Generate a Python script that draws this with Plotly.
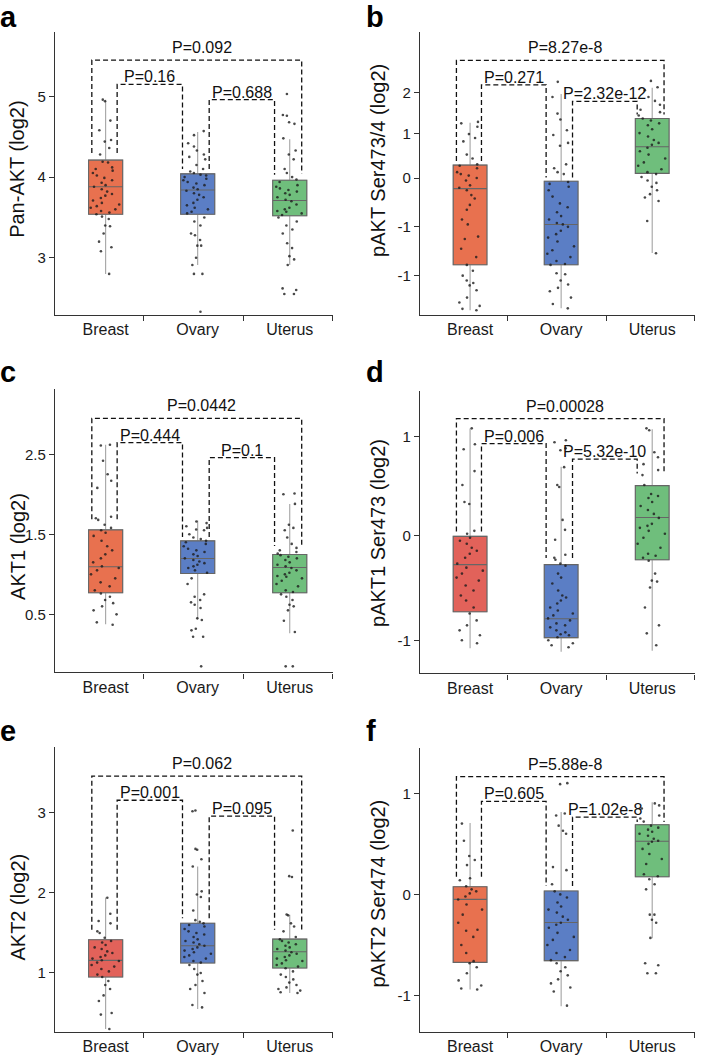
import plotly.graph_objects as go

W, H = 709, 1055
FONT = "Liberation Sans, Arial, Helvetica, sans-serif"

categories = ["Breast", "Ovary", "Uterus"]
panel_letters = ["a", "b", "c", "d", "e", "f"]
y_titles = ["Pan-AKT (log2)", "pAKT Ser473/4 (log2)", "AKT1 (log2)",
            "pAKT1 Ser473 (log2)", "AKT2 (log2)", "pAKT2 Ser474 (log2)"]

# y-axis ranges and tick labels as printed on each panel
y_ranges = [[2.293, 5.80], [-2.802, 2.994], [-0.226, 3.322],
            [-1.383, 1.46], [0.262, 3.821], [-1.361, 1.446]]
tick_vals = [[3, 4, 5], [1.755, 0.906, 0, -1, -2], [0.5, 1.5, 2.5],
             [0.994, 0, -1.05], [1, 2, 3], [1, 0, -1]]
tick_text = [["3", "4", "5"], ["2", "1", "0", "-1", "-1"], ["0.5", "1.5", "2.5"],
             ["1", "0", "-1"], ["1", "2", "3"], ["1", "0", "-1"]]

# box statistics per panel: [Breast, Ovary, Uterus]
q1 = [[3.54, 3.54, 3.52], [-1.776, -1.776, 0.096], [0.770, 1.01, 0.77],
      [-0.763, -1.023, -0.24], [0.95, 1.124, 1.062], [-0.672, -0.655, 0.174]]
median = [[3.88, 3.84, 3.71], [-0.217, -0.952, 0.64], [1.094, 1.197, 1.085],
          [-0.29, -0.833, 0.184], [1.158, 1.34, 1.266], [-0.049, -0.278, 0.525]]
q3 = [[4.21, 4.04, 3.96], [0.265, -0.067, 1.218], [1.555, 1.418, 1.247],
      [-0.006, -0.29, 0.504], [1.416, 1.622, 1.423], [0.076, 0.033, 0.689]]
lower = [[2.80, 2.91, 2.91], [-2.71, -2.67, -1.537], [0.375, 0.44, 0.263],
         [-1.13, -1.166, -1.156], [0.30, 0.55, 0.751], [-0.94, -1.105, -0.433]]
upper = [[4.96, 4.56, 4.47], [1.13, 1.72, 1.85], [2.62, 1.674, 1.88],
         [1.077, 0.694, 1.07], [1.942, 2.33, 1.727], [0.705, 0.814, 0.91]]

# individual samples
pts_a_breast = [4.96, 4.94, 4.70, 4.58, 4.46, 4.44, 4.36, 4.28, 4.19, 4.18, 4.12, 4.10, 4.08, 4.05,
                4.02, 3.99, 3.96, 3.93, 3.90, 3.88, 3.85, 3.82, 3.79, 3.77, 3.74, 3.71, 3.68, 3.66,
                3.64, 3.62, 3.60, 3.58, 3.56, 3.54, 3.51, 3.48, 3.40, 3.39, 3.30, 3.20, 3.13, 3.08, 2.80]
pts_a_ovary = [4.57, 4.52, 4.42, 4.38, 4.33, 4.28, 4.25, 4.22, 4.15, 4.10, 4.07, 4.05, 4.03, 4.02,
               4.00, 3.98, 3.96, 3.94, 3.92, 3.90, 3.87, 3.85, 3.83, 3.80, 3.78, 3.75, 3.72, 3.68,
               3.65, 3.62, 3.60, 3.57, 3.55, 3.50, 3.45, 3.40, 3.30, 3.28, 3.22, 3.15, 3.15, 3.00,
               2.91, 2.80, 2.80, 2.33]
pts_a_uterus = [5.03, 4.77, 4.76, 4.68, 4.66, 4.48, 4.33, 4.28, 4.22, 4.10, 4.05, 4.00, 3.97, 3.94,
                3.90, 3.88, 3.86, 3.84, 3.82, 3.80, 3.78, 3.75, 3.72, 3.70, 3.66, 3.62, 3.60, 3.58,
                3.57, 3.55, 3.53, 3.50, 3.45, 3.40, 3.35, 3.30, 3.18, 3.12, 3.02, 2.98, 2.91, 2.62,
                2.60, 2.55, 2.55]

pts_b_breast = [1.15, 1.12, 1.05, 0.90, 0.82, 0.75, 0.48, 0.40, 0.28, 0.25, 0.20, 0.12, 0.08, 0.05,
                0.00, -0.05, -0.15, -0.20, -0.25, -0.35, -0.42, -0.55, -0.65, -0.85, -0.95, -1.20,
                -1.25, -1.45, -1.62, -1.78, -1.90, -2.00, -2.10, -2.15, -2.20, -2.30, -2.45, -2.55,
                -2.62, -2.68, -2.71]
pts_b_ovary = [1.97, 1.66, 1.32, 1.20, 0.98, 0.88, 0.72, 0.66, 0.28, 0.20, 0.12, 0.08, -0.08, -0.12,
               -0.18, -0.25, -0.38, -0.52, -0.60, -0.70, -0.78, -0.85, -0.92, -0.95, -1.00, -1.08,
               -1.15, -1.22, -1.30, -1.40, -1.48, -1.55, -1.62, -1.70, -1.76, -1.78, -1.95, -1.97,
               -2.10, -2.18, -2.25, -2.32, -2.45, -2.58, -2.67]
pts_b_uterus = [1.99, 1.86, 1.80, 1.66, 1.58, 1.50, 1.40, 1.35, 1.28, 1.22, 1.18, 1.12, 1.08, 1.00,
                0.92, 0.85, 0.78, 0.72, 0.68, 0.62, 0.55, 0.48, 0.40, 0.32, 0.25, 0.18, 0.12, 0.08,
                0.02, -0.05, -0.10, -0.18, -0.25, -0.33, -0.40, -0.47, -0.88, -1.54]

pts_c_breast = [2.62, 2.61, 2.42, 2.25, 2.17, 2.08, 1.72, 1.70, 1.68, 1.62, 1.58, 1.55, 1.52, 1.48,
                1.42, 1.35, 1.30, 1.25, 1.20, 1.15, 1.10, 1.08, 1.05, 1.00, 0.95, 0.90, 0.85, 0.80,
                0.76, 0.72, 0.68, 0.64, 0.60, 0.55, 0.50, 0.40, 0.37]
pts_c_ovary = [1.66, 1.64, 1.60, 1.58, 1.56, 1.55, 1.50, 1.46, 1.44, 1.42, 1.40, 1.38, 1.35, 1.32,
               1.30, 1.28, 1.25, 1.23, 1.20, 1.18, 1.16, 1.14, 1.12, 1.10, 1.08, 1.05, 1.02, 0.95,
               0.88, 0.75, 0.72, 0.68, 0.65, 0.62, 0.58, 0.45, 0.43, 0.32, 0.30, 0.22, 0.22, -0.15]
pts_c_uterus = [2.01, 2.00, 1.88, 1.62, 1.58, 1.55, 1.46, 1.38, 1.33, 1.30, 1.28, 1.26, 1.24, 1.22,
                1.20, 1.18, 1.15, 1.12, 1.10, 1.08, 1.05, 1.02, 1.00, 0.98, 0.97, 0.95, 0.92, 0.88,
                0.85, 0.80, 0.78, 0.75, 0.72, 0.68, 0.62, 0.60, 0.55, 0.42, 0.28, -0.15, -0.15]

pts_d_breast = [1.08, 0.92, 0.87, 0.65, 0.51, 0.34, 0.32, 0.05, 0.02, -0.02, -0.05, -0.08, -0.12,
                -0.15, -0.18, -0.22, -0.28, -0.32, -0.35, -0.38, -0.42, -0.45, -0.50, -0.55, -0.60,
                -0.65, -0.72, -0.78, -0.85, -0.90, -0.95, -1.00, -1.05, -1.08]
pts_d_ovary = [0.96, 0.94, 0.88, 0.86, 0.69, 0.51, 0.49, 0.16, 0.06, -0.04, -0.19, -0.22, -0.24,
               -0.28, -0.30, -0.38, -0.42, -0.48, -0.55, -0.60, -0.62, -0.65, -0.68, -0.72, -0.75,
               -0.78, -0.80, -0.83, -0.85, -0.88, -0.90, -0.92, -0.95, -0.97, -0.99, -1.00, -1.02,
               -1.05, -1.08, -1.10, -1.12]
pts_d_uterus = [1.08, 1.06, 0.84, 0.79, 0.72, 0.66, 0.61, 0.51, 0.42, 0.40, 0.38, 0.34, 0.30, 0.26,
                0.22, 0.18, 0.12, 0.10, 0.08, 0.05, 0.02, -0.02, -0.08, -0.12, -0.18, -0.20, -0.22,
                -0.25, -0.38, -0.45, -0.46, -0.52, -0.72, -0.90, -0.98, -1.10]

pts_e_breast = [1.94, 1.74, 1.65, 1.62, 1.52, 1.50, 1.44, 1.40, 1.38, 1.35, 1.32, 1.30, 1.27, 1.25,
                1.22, 1.20, 1.18, 1.16, 1.15, 1.13, 1.10, 1.08, 1.05, 1.02, 0.98, 0.95, 0.90, 0.85,
                0.80, 0.72, 0.65, 0.50, 0.48, 0.30]
pts_e_ovary = [3.03, 3.02, 2.55, 2.54, 2.42, 2.33, 2.02, 1.98, 1.95, 1.78, 1.66, 1.64, 1.62, 1.60,
               1.58, 1.55, 1.52, 1.50, 1.48, 1.45, 1.42, 1.40, 1.38, 1.36, 1.34, 1.32, 1.30, 1.28,
               1.26, 1.24, 1.22, 1.20, 1.18, 1.15, 1.13, 1.10, 1.05, 1.00, 0.98, 0.90, 0.85, 0.80,
               0.75, 0.60, 0.57]
pts_e_uterus = [2.78, 2.21, 2.20, 1.73, 1.72, 1.62, 1.58, 1.52, 1.45, 1.42, 1.40, 1.38, 1.36, 1.34,
                1.32, 1.30, 1.28, 1.26, 1.24, 1.22, 1.20, 1.18, 1.16, 1.15, 1.12, 1.10, 1.08, 1.06,
                1.02, 0.98, 0.95, 0.92, 0.88, 0.85, 0.82, 0.80, 0.78, 0.76, 0.75]

pts_f_breast = [0.70, 0.53, 0.38, 0.34, 0.29, 0.16, 0.14, 0.08, 0.05, 0.03, 0.01, -0.02, -0.05,
                -0.10, -0.15, -0.20, -0.28, -0.35, -0.36, -0.42, -0.50, -0.58, -0.66, -0.68, -0.72,
                -0.78, -0.85, -0.90, -0.93, -0.94]
pts_f_ovary = [1.10, 1.09, 0.80, 0.78, 0.68, 0.63, 0.60, 0.27, 0.24, 0.10, 0.03, 0.00, -0.03, -0.08,
               -0.12, -0.15, -0.18, -0.22, -0.25, -0.28, -0.30, -0.33, -0.38, -0.42, -0.45, -0.50,
               -0.55, -0.58, -0.62, -0.65, -0.68, -0.72, -0.76, -0.80, -0.84, -0.88, -0.92, -0.96, -1.10]
pts_f_uterus = [0.90, 0.88, 0.85, 0.78, 0.75, 0.72, 0.68, 0.66, 0.64, 0.62, 0.60, 0.58, 0.55, 0.53,
                0.52, 0.50, 0.45, 0.40, 0.35, 0.30, 0.20, 0.18, 0.15, 0.10, 0.05, -0.20, -0.20,
                -0.25, -0.28, -0.43, -0.68, -0.70, -0.78, -0.78]

points = [[pts_a_breast, pts_a_ovary, pts_a_uterus],
          [pts_b_breast, pts_b_ovary, pts_b_uterus],
          [pts_c_breast, pts_c_ovary, pts_c_uterus],
          [pts_d_breast, pts_d_ovary, pts_d_uterus],
          [pts_e_breast, pts_e_ovary, pts_e_uterus],
          [pts_f_breast, pts_f_ovary, pts_f_uterus]]

# significance brackets: pairs, bar height, left leg end, right leg end
pairs = [(0, 1), (1, 2), (0, 2)]
bracket_y = [[5.15, 4.96, 5.45], [1.91, 1.57, 2.41], [2.646, 2.459, 2.948],
             [0.927, 0.77, 1.177], [3.158, 2.959, 3.46], [0.919, 0.764, 1.165]]
bracket_left_end = [[4.30, 4.10, 4.30], [0.35, 0.01, 0.35], [1.687, 1.468, 1.687],
                    [0.044, -0.223, 0.044], [1.54, 1.684, 1.54], [0.174, 0.083, 0.174]]
bracket_right_end = [[4.10, 4.03, 4.04], [0.01, 1.30, 1.30], [1.468, 1.355, 1.355],
                     [-0.223, 0.627, 0.627], [1.684, 1.54, 1.54], [0.083, 0.715, 0.715]]
p_labels = [["P=0.16", "P=0.688", "P=0.092"],
            ["P=0.271", "P=2.32e-12", "P=8.27e-8"],
            ["P=0.444", "P=0.1", "P=0.0442"],
            ["P=0.006", "P=5.32e-10", "P=0.00028"],
            ["P=0.001", "P=0.095", "P=0.062"],
            ["P=0.605", "P=1.02e-8", "P=5.88e-8"]]

# colours
orange = "#E8714F"
red = "#E2625A"
blue = "#5B7EC5"
green = "#6FBE7C"
box_colors = [[orange, blue, green], [orange, blue, green], [orange, blue, green],
              [red, blue, green], [red, blue, green], [orange, blue, green]]

# ---- layout geometry (pixels) ----
dom_x = [(55, 333), (420, 695), (55, 333), (420, 695), (55, 333), (420, 695)]
dom_y = [(32, 316), (32, 316), (390, 675), (392, 676), (750, 1036), (751, 1036)]
ytitle_pos = [(17.5, 170), (378.5, 161), (18, 549), (378, 535), (18, 911), (378, 897)]
# left edge and top edge (pixels) of each panel letter's text box
letter_pos = [(-1, 0), (365, 0), (-1, 356), (365, 356), (-1, 717), (365, 717)]
x_range = [-0.55, 2.47]
boundary_ticks = [0.41, 1.5, 2.46]


def px(x):
    return x / W


def py(y):
    return 1 - y / H


fig = go.Figure()
annotations = []
AX = "#333333"

for p in range(6):
    n = "" if p == 0 else str(p + 1)
    xa, ya = "x" + n, "y" + n
    for i in range(3):
        # whiskers + filled box
        fig.add_trace(go.Box(
            x=[i], q1=[q1[p][i]], median=[median[p][i]], q3=[q3[p][i]],
            lowerfence=[lower[p][i]], upperfence=[upper[p][i]],
            width=0.37, whiskerwidth=0, fillcolor=box_colors[p][i],
            line=dict(color="#a3a3a3", width=1.1), boxpoints=False,
            xaxis=xa, yaxis=ya, showlegend=False, hoverinfo="skip"))
        # darker outline and median on top
        fig.add_trace(go.Box(
            x=[i], q1=[q1[p][i]], median=[median[p][i]], q3=[q3[p][i]],
            lowerfence=[q1[p][i]], upperfence=[q3[p][i]],
            width=0.37, whiskerwidth=0, fillcolor=box_colors[p][i],
            line=dict(color="#666666", width=1.1), boxpoints=False,
            xaxis=xa, yaxis=ya, showlegend=False, hoverinfo="skip"))
    for i in range(3):
        # jittered raw points
        vals = points[p][i]
        fig.add_trace(go.Box(
            x=[i] * len(vals), y=vals, width=0.37, boxpoints="all", jitter=0.9,
            pointpos=0, fillcolor="rgba(0,0,0,0)", whiskerwidth=0,
            line=dict(color="rgba(0,0,0,0)", width=0),
            marker=dict(size=2.6, color="#1c1c1c", opacity=0.8),
            xaxis=xa, yaxis=ya, showlegend=False, hoverinfo="skip"))
    for k, (a, b) in enumerate(pairs):
        if (a, b) == (0, 2):
            xl, xr = a - 0.15, b + 0.13
        else:
            xl, xr = a + 0.125, b - 0.165
        fig.add_trace(go.Scatter(
            x=[xl, xl, xr, xr],
            y=[bracket_left_end[p][k], bracket_y[p][k], bracket_y[p][k], bracket_right_end[p][k]],
            mode="lines", line=dict(color="#111111", width=1.3, dash="5px,3px"),
            xaxis=xa, yaxis=ya, showlegend=False, hoverinfo="skip"))
        overall = (a, b) == (0, 2)
        annotations.append(dict(
            x=(xl + xr) / 2, y=bracket_y[p][k], xref=xa, yref=ya,
            text=p_labels[p][k], showarrow=False, xanchor="center", yanchor="bottom",
            xshift=5 if overall else 0, yshift=2 if overall else -3,
            font=dict(family=FONT, size=16, color="#111111")))

    fig.update_layout(**{
        "xaxis" + n: dict(
            domain=[px(dom_x[p][0]), px(dom_x[p][1])], range=x_range, anchor=ya,
            tickmode="array", tickvals=[0, 1, 2], ticktext=categories,
            ticks="", ticklen=0,
            minor=dict(tickmode="array", tickvals=boundary_ticks, ticks="outside",
                       ticklen=5, tickcolor=AX, tickwidth=1, showgrid=False),
            showline=True, linecolor=AX, linewidth=1.2, showgrid=False, zeroline=False,
            tickfont=dict(family=FONT, size=16, color="#1a1a1a"), fixedrange=True),
        "yaxis" + n: dict(
            domain=[py(dom_y[p][1]), py(dom_y[p][0])], range=y_ranges[p], anchor=xa,
            tickmode="array", tickvals=tick_vals[p], ticktext=tick_text[p],
            ticks="outside", ticklen=5, tickcolor=AX, tickwidth=1,
            showline=True, linecolor=AX, linewidth=1.2, showgrid=False, zeroline=False,
            tickfont=dict(family=FONT, size=15, color="#1a1a1a"), fixedrange=True),
    })

    annotations.append(dict(
        x=px(ytitle_pos[p][0]), y=py(ytitle_pos[p][1]), xref="paper", yref="paper",
        text=y_titles[p], textangle=-90, showarrow=False, xanchor="center", yanchor="middle",
        font=dict(family=FONT, size=20, color="#111111")))
    annotations.append(dict(
        x=px(letter_pos[p][0]), y=py(letter_pos[p][1]), xref="paper", yref="paper",
        text="<b>" + panel_letters[p] + "</b>", showarrow=False, xanchor="left", yanchor="top",
        borderpad=0, font=dict(family=FONT, size=29, color="#000000")))

fig.update_layout(
    width=W, height=H, margin=dict(l=0, r=0, t=0, b=0),
    paper_bgcolor="white", plot_bgcolor="white", boxmode="overlay",
    annotations=annotations, showlegend=False, font=dict(family=FONT))

fig.write_html("out.html", config={"displayModeBar": False},
               post_script="document.body.style.margin='0px';document.body.style.overflow='hidden';")
